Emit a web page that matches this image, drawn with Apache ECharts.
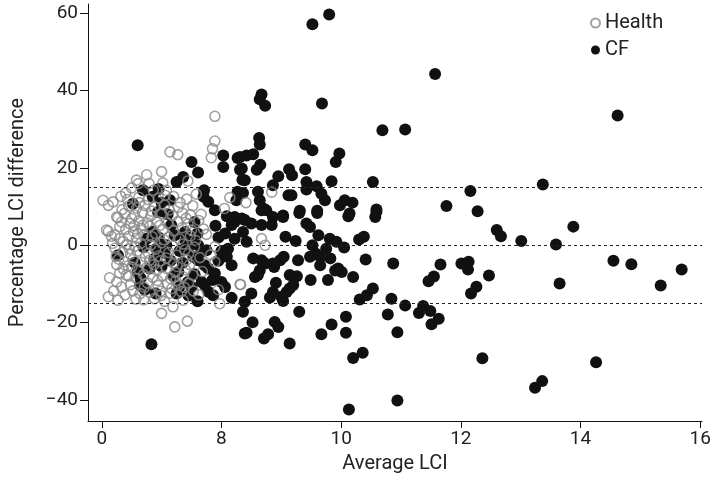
<!DOCTYPE html>
<html>
<head>
<meta charset="utf-8">
<script src="https://cdn.jsdelivr.net/npm/echarts@6/dist/echarts.min.js"></script>
<style>
  html, body { margin: 0; padding: 0; background: #fff; }
  #chart { width: 720px; height: 488px; }
</style>
</head>
<body>
<div id="chart"></div>
<script>
// axis ticks (first tick is printed as "0" in the source figure)
var xTickValues = [6, 8, 10, 12, 14, 16];
var xTickLabels = ['0', '8', '10', '12', '14', '16'];
var yTickValues = [-40, -20, 0, 20, 40, 60];
var limitLines = [15, 0, -15];

// healthy subjects: [average LCI, % difference]
var healthPoints = [
  [7.89,33.3],[7.89,26.9],[7.85,24.9],[7.83,22.6],[7.14,24.1],[7.27,23.4],[7.44,16.6],[7.08,14.2],
  [8.14,12.3],[6.58,16.8],[6.61,15.9],[6.79,15.9],[7.02,16.1],[6.86,14.2],[6.02,11.6],[6.19,11.2],
  [6.11,10.3],[6.25,7.3],[6.27,7.1],[6.11,3.6],[6.22,2.6],[6.30,1.7],[6.36,1.0],[6.50,6.9],
  [6.13,-8.4],[6.25,-9.5],[6.33,-10.8],[6.11,-13.3],[6.27,-14.2],[6.64,-12.5],[6.41,-7.7],[6.58,-8.6],
  [7.00,-17.6],[7.22,-21.1],[7.43,-19.6],[7.36,-14.2],[7.19,-15.9],[7.97,-15.1],[8.32,-10.2],[7.89,-0.4],
  [7.89,-4.3],[8.73,0.0],[8.84,13.7],[8.41,11.0],[8.67,1.7],[8.31,-10.1],[6.08,3.9],[6.16,2.3],
  [6.62,12.4],[6.78,11.8],[6.95,12.2],[7.20,12.6],[7.42,11.9],
  [6.45,10.1],[6.58,9.6],[6.72,10.3],[6.88,9.9],[7.05,10.4],[7.28,9.8],[7.52,10.2],
  [6.38,8.2],[6.55,7.8],[6.68,8.4],[6.82,7.6],[7.00,8.1],[7.18,7.7],[7.35,8.3],[7.48,7.9],[7.66,8.0],
  [6.33,6.0],[6.47,5.6],[6.62,6.3],[6.76,5.8],[6.92,6.2],[7.10,5.7],[7.27,6.1],[7.44,5.5],[7.62,6.4],
  [6.40,4.1],[6.53,3.6],[6.66,4.4],[6.80,4.9],[7.02,4.0],[7.20,3.7],[7.34,4.5],[7.50,3.9],[7.70,4.2],
  [6.45,2.3],[6.58,1.8],[6.70,2.6],[6.90,3.0],[7.12,2.1],[7.30,1.6],[7.48,2.4],
  [6.42,0.2],[6.55,-0.3],[6.65,0.5],[6.82,0.1],[7.00,0.6],[7.18,-0.2],[7.36,0.3],[7.55,-0.5],
  [6.35,-1.8],[6.48,-2.3],[6.60,-1.5],[6.78,-2.1],[6.95,-2.8],[7.12,-1.9],[7.25,-2.6],[7.45,-2.2],
  [6.38,-4.2],[6.52,-3.7],[6.66,-4.4],[6.80,-3.9],[6.98,-4.0],[7.20,-4.6],[7.42,-3.8],
  [6.36,-6.1],[6.50,-5.6],[6.62,-6.3],[6.75,-5.8],[6.92,-6.5],[7.08,-6.0],[7.26,-5.5],[7.40,-6.4],
  [6.45,-8.0],[6.70,-7.6],[6.85,-8.3],[7.02,-7.9],[7.15,-8.6],[7.35,-8.1],[7.52,-7.7],
  [6.48,-10.2],[6.76,-9.7],[6.94,-10.4],[7.10,-9.9],[7.28,-10.3],[7.45,-9.8],
  [6.52,-11.8],[6.80,-12.2],[6.98,-11.9],[7.15,-12.4],[7.33,-12.0],
  [6.70,-14.1],[6.88,-13.8],[7.05,-14.5],
  [7.75,2.8],[7.82,-2.5],[7.68,-6.8],[8.05,9.5],[7.95,-11.5],[7.62,-12.8],[6.25,-5.0],[6.22,-0.8],
  [6.30,4.8],[6.20,-11.8],[6.40,13.5],[7.58,13.2],[7.00,19.0],[6.75,18.2],
  [6.18,0.5],[6.24,-2.9],[6.30,-7.2],[6.34,9.2],[6.43,11.8],[6.50,14.8],[6.57,-13.9],[6.63,11.0],
  [6.69,5.2],[6.73,-3.0],[6.84,2.2],[6.87,-5.0],[6.93,-9.1],[6.99,-13.0],[7.04,1.4],[7.08,-3.3],
  [7.13,9.1],[7.17,-11.2],[7.23,-7.0],[7.31,11.0],[7.39,-1.2],[7.41,7.0],[7.47,-5.0],[7.53,-11.8],
  [7.57,1.2],[7.64,-3.2],[6.39,-12.8],[6.46,-0.9],[6.54,5.0],[6.60,3.0],[6.71,-10.9],[6.83,8.8],
  [6.90,-1.0],[6.97,5.1],[7.06,12.9],[7.24,-9.2],[7.38,-10.9],[6.28,-3.6],[6.32,12.6],[6.44,-5.3]
];

// cystic fibrosis patients
var cfPoints = [
  [6.60,25.8],[6.27,-2.6],[6.83,-25.6],
  [7.50,21.5],[7.61,18.8],[8.03,23.2],[8.03,20.2],[8.27,22.5],[8.31,19.5],[8.35,16.9],[7.36,17.6],
  [7.25,16.3],[7.71,14.2],[7.70,12.5],[7.78,11.2],[8.27,13.8],[8.25,11.6],[7.14,11.6],[7.89,9.0],
  [8.09,7.5],[8.22,7.3],[6.69,14.2],[6.52,10.7],[6.94,8.6],[6.75,1.7],[6.91,-0.9],[6.64,-10.3],
  [7.50,0.9],[7.61,0.0],[7.44,-0.9],[7.67,-1.7],[7.75,-1.3],[7.53,-3.0],[7.61,-3.9],[7.72,-5.2],
  [7.78,-6.0],[8.06,3.0],[8.17,5.2],[8.22,1.7],[8.11,-0.9],[8.09,-3.0],[8.17,-5.2],[7.89,-7.3],
  [8.00,-9.5],[8.06,-10.8],[7.72,-10.3],[7.78,-12.0],[7.86,-12.9],[7.67,-9.5],[7.44,-9.5],[7.50,-10.8],
  [8.17,-13.6],[8.39,-14.6],[8.39,-22.8],[8.22,6.0],[8.34,6.9],[7.08,0.0],[7.16,5.2],[7.22,2.6],
  [7.39,3.4],[7.28,-6.9],[7.30,-10.8],
  [6.85,3.5],[6.95,2.0],[7.05,-2.0],[7.15,-4.0],[7.00,-5.5],[6.88,-3.5],[6.60,-7.0],[6.65,-8.5],
  [6.72,-11.5],[6.90,-12.5],[7.20,-8.0],[7.35,-4.5],[7.30,-1.5],[7.40,1.0],[6.80,-6.0],[7.10,8.0],
  [6.85,12.5],[7.00,11.0],[6.95,14.5],[7.55,6.0],[7.60,3.0],[7.45,-13.0],[7.60,-14.5],[7.95,-4.0],
  [7.95,2.0],[7.90,5.0],[8.00,-1.5],[6.70,-0.5],[6.55,-4.5],[7.25,-12.5],[7.55,-7.5],[7.85,-9.0],
  [9.52,57.1],[9.80,59.6],[8.67,38.9],[8.64,37.7],[8.73,36.0],[9.68,36.6],[10.69,29.7],[8.63,27.7],
  [8.64,26.0],[9.40,26.0],[9.52,24.5],[9.97,23.7],[9.91,21.5],[8.31,22.8],[8.42,23.2],[8.53,23.5],
  [8.65,20.8],[8.59,19.5],[8.34,19.8],[9.13,19.6],[9.18,18.1],[9.40,19.6],[8.95,17.8],[8.39,16.8],
  [9.84,16.5],[10.53,16.3],[8.86,15.5],[9.42,16.3],[9.42,14.4],[9.59,15.2],[9.67,13.3],[9.73,11.6],
  [8.36,13.5],[8.61,13.8],[8.64,11.6],[9.12,12.9],[9.17,12.9],[9.98,10.3],[10.06,11.6],[10.19,11.0],
  [10.59,9.2],[8.70,9.5],[8.75,9.0],[9.31,8.9],[9.60,8.9],[9.03,7.7],[10.14,8.2],
  [8.67,9.0],[8.86,7.3],[8.84,5.2],[8.67,5.2],[9.03,7.3],[9.30,8.3],[9.60,8.3],[10.12,7.5],
  [10.57,7.3],[10.59,8.6],[8.39,6.5],[8.50,5.6],[8.36,3.4],[8.42,0.9],[9.42,5.6],[9.48,4.7],
  [9.07,2.2],[9.24,1.1],[9.62,2.6],[9.52,0.0],[9.81,1.7],[9.92,0.9],[10.05,-0.6],[10.30,1.5],
  [10.38,2.2],[9.75,-0.9],[9.58,-2.2],[9.65,-3.0],[9.82,-3.4],[9.48,-3.0],[9.28,-3.9],[8.98,-3.9],
  [9.04,-3.0],[8.53,-3.4],[8.67,-3.9],[8.73,-4.7],[8.88,-5.6],[8.86,-4.7],[10.41,-3.7],[10.87,-4.7],
  [9.65,-5.2],[9.95,-6.0],[10.01,-6.9],[9.90,-6.5],[8.64,-6.5],[8.56,-8.2],[8.61,-7.7],[9.14,-7.7],
  [9.26,-8.0],[9.49,-9.0],[9.78,-9.0],[10.20,-8.2],[8.91,-9.7],[8.86,-12.1],[8.81,-13.5],[9.00,-13.3],
  [9.03,-14.4],[9.14,-11.2],[9.20,-10.3],[9.09,-12.1],[8.50,-12.5],[8.39,-14.6],[8.36,-17.2],[10.31,-14.0],
  [10.43,-12.9],[10.53,-11.2],[10.84,-13.8],[10.78,-17.9],[9.30,-17.2],[8.52,-19.9],[8.42,-22.6],[8.89,-19.8],
  [8.95,-21.1],[8.71,-24.1],[8.78,-23.0],[9.14,-25.4],[9.67,-23.0],[9.84,-20.5],[10.08,-18.5],[10.08,-22.6],
  [10.20,-29.1],[10.36,-27.8],[10.94,-22.5],[10.13,-42.4],
  [11.57,44.2],[11.07,29.9],[14.62,33.5],[13.37,15.7],[12.16,14.0],[11.76,10.1],[12.28,8.8],[13.88,4.8],
  [12.60,3.9],[12.67,2.3],[13.01,1.1],[13.59,0.2],[11.66,-5.0],[12.01,-4.7],[12.13,-4.3],[12.12,-6.3],
  [14.55,-4.0],[14.85,-4.9],[15.69,-6.3],[12.47,-7.8],[11.55,-8.1],[11.46,-9.3],[12.26,-10.7],[12.17,-12.5],
  [13.65,-9.9],[15.34,-10.4],[11.07,-15.6],[11.37,-15.7],[11.30,-17.5],[11.49,-17.0],[11.51,-20.4],[11.63,-19.0],
  [12.36,-29.2],[14.26,-30.2],[13.36,-35.1],[13.24,-36.8],[10.94,-40.1]
];

var chart = echarts.init(document.getElementById('chart'));
var textColor = '#222';
var fontFamily = 'Roboto, "Noto Sans", sans-serif';

var option = {
  animation: false,
  textStyle: { fontFamily: fontFamily },
  grid: { left: 88, right: 18, top: 4, bottom: 67 },
  legend: {
    orient: 'vertical',
    left: 585,
    top: 8,
    itemWidth: 9,
    itemHeight: 9,
    itemGap: 7,
    data: ['Health', 'CF'],
    textStyle: { fontSize: 20, color: textColor, fontFamily: fontFamily }
  },
  xAxis: {
    type: 'value',
    min: 5.77,
    max: 16.03,
    name: 'Average LCI',
    nameLocation: 'middle',
    nameGap: 33,
    nameTextStyle: { fontSize: 20, color: textColor },
    splitLine: { show: false },
    axisLine: { onZero: false, lineStyle: { color: '#111', width: 1 } },
    axisTick: { customValues: xTickValues, length: 7, lineStyle: { color: '#111' } },
    axisLabel: {
      customValues: xTickValues,
      fontSize: 19,
      color: textColor,
      margin: 9,
      formatter: function (v) {
        var i = xTickValues.indexOf(v);
        return i >= 0 ? xTickLabels[i] : '';
      }
    }
  },
  yAxis: {
    type: 'value',
    min: -45.4,
    max: 62.3,
    name: 'Percentage LCI difference',
    nameLocation: 'middle',
    nameGap: 60,
    nameTextStyle: { fontSize: 20, color: textColor },
    splitLine: { show: false },
    axisLine: { show: true, onZero: false, lineStyle: { color: '#111', width: 1 } },
    axisTick: { show: true, customValues: yTickValues, length: 8, lineStyle: { color: '#111' } },
    axisLabel: {
      customValues: yTickValues,
      fontSize: 19,
      color: textColor,
      margin: 10,
      formatter: function (v) { return String(v).replace('-', '\u2212'); }
    }
  },
  series: [
    {
      name: 'CF',
      type: 'scatter',
      z: 2,
      symbol: 'circle',
      symbolSize: 12,
      itemStyle: { color: '#111', opacity: 1 },
      data: cfPoints,
      markLine: {
        silent: true,
        symbol: 'none',
        label: { show: false },
        lineStyle: { color: '#222', type: [3, 3], width: 1.2 },
        data: limitLines.map(function (v) { return { yAxis: v }; })
      }
    },
    {
      name: 'Health',
      type: 'scatter',
      z: 3,
      symbol: 'circle',
      symbolSize: 10,
      itemStyle: { color: 'rgba(255,255,255,0)', borderColor: '#8a8a8a', borderWidth: 1.6 },
      data: healthPoints
    }
  ]
};

chart.setOption(option);
window.addEventListener('resize', function () {
  chart.resize();
});
</script>
</body>
</html>
